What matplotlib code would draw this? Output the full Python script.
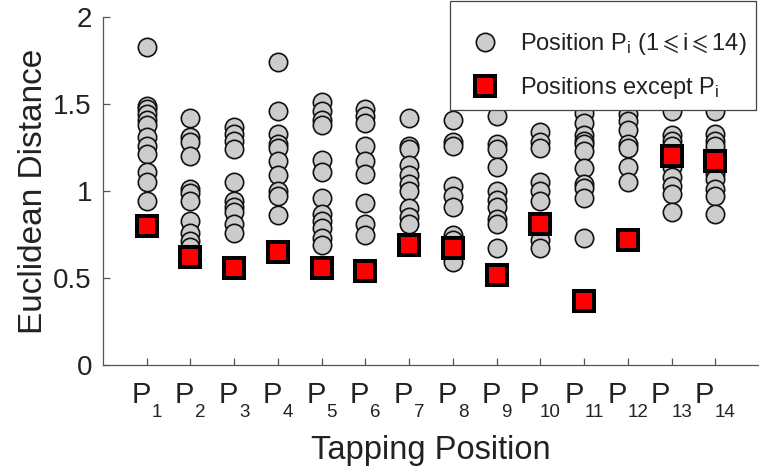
import matplotlib
matplotlib.use("Agg")
import matplotlib.pyplot as plt
from matplotlib import font_manager
from matplotlib.patches import Rectangle
from matplotlib.transforms import IdentityTransform

# ---- data -------------------------------------------------------------
positions = list(range(1, 15))
tick_numbers = [str(i) for i in positions]

p1 = [1.83, 1.49, 1.47, 1.44, 1.41, 1.38, 1.31, 1.26, 1.21, 1.11, 1.05, 0.94]
p2 = [1.42, 1.31, 1.28, 1.20, 1.01, 0.99, 0.94, 0.83, 0.76, 0.71, 0.68]
p3 = [1.37, 1.33, 1.29, 1.24, 1.05, 0.94, 0.91, 0.88, 0.81, 0.76]
p4 = [1.74, 1.46, 1.33, 1.27, 1.25, 1.17, 1.09, 1.00, 0.97, 0.86]
p5 = [1.51, 1.46, 1.41, 1.38, 1.18, 1.11, 0.96, 0.87, 0.83, 0.79, 0.73, 0.69]
p6 = [1.47, 1.43, 1.39, 1.26, 1.17, 1.10, 0.93, 0.81, 0.75]
p7 = [1.42, 1.26, 1.24, 1.15, 1.09, 1.04, 1.00, 0.90, 0.85, 0.81]
p8 = [1.41, 1.28, 1.26, 1.03, 0.97, 0.91, 0.75, 0.72, 0.59]
p9 = [1.43, 1.27, 1.24, 1.14, 1.00, 0.95, 0.91, 0.84, 0.81, 0.67]
p10 = [1.34, 1.28, 1.25, 1.05, 1.00, 0.94, 0.72, 0.67]
p11 = [1.45, 1.39, 1.32, 1.29, 1.27, 1.23, 1.13, 1.04, 1.02, 0.96, 0.73]
p12 = [1.44, 1.40, 1.35, 1.27, 1.25, 1.14, 1.05]
p13 = [1.46, 1.32, 1.29, 1.26, 1.19, 1.14, 1.08, 1.03, 0.98, 0.88]
p14 = [1.46, 1.33, 1.29, 1.26, 1.10, 1.07, 1.01, 0.97, 0.87]
same_position = [p1, p2, p3, p4, p5, p6, p7, p8, p9, p10, p11, p12, p13, p14]

other_positions = [0.80, 0.62, 0.56, 0.65, 0.56, 0.54, 0.69, 0.67, 0.52,
                   0.81, 0.365, 0.72, 1.20, 1.17]

y_ticks = [0, 0.5, 1, 1.5, 2]
y_tick_labels = ["0", "0.5", "1", "1.5", "2"]

# ---- fonts ------------------------------------------------------------
installed = {f.name for f in font_manager.fontManager.ttflist}
main_font = "Liberation Sans" if "Liberation Sans" in installed else "DejaVu Sans"
narrow_font = "Liberation Sans Narrow" if "Liberation Sans Narrow" in installed else main_font

plt.rcParams["font.family"] = [main_font, "DejaVu Sans"]
plt.rcParams["mathtext.fontset"] = "custom"
plt.rcParams["mathtext.rm"] = main_font
plt.rcParams["mathtext.it"] = main_font
plt.rcParams["mathtext.fallback"] = "stixsans"

# ---- figure -----------------------------------------------------------
W, H = 759, 468
fig = plt.figure(figsize=(W / 100, H / 100), dpi=100)
ax = fig.add_axes([103 / W, 103 / H, 656 / W, 348 / H])

circle_kw = dict(linestyle="none", marker="o", markersize=13.2,
                 markerfacecolor="#cccccc", markeredgecolor="#111111",
                 markeredgewidth=1.2)
square_kw = dict(linestyle="none", marker="s", markersize=14.4,
                 markerfacecolor="#ff0000", markeredgecolor="black",
                 markeredgewidth=2.9)

for i, (x, vals) in enumerate(zip(positions, same_position)):
    ax.plot([x] * len(vals), vals, zorder=2,
            label=r"Position P$_\mathregular{i}$ (1$\leqslant$i$\leqslant$14)" if i == 0 else None,
            **circle_kw)
ax.plot(positions, other_positions, zorder=3,
        label=r"Positions except P$_\mathregular{i}$", **square_kw)

ax.set_xlim(0, 15)
ax.set_ylim(0, 2)

for side in ("top", "right"):
    ax.spines[side].set_visible(False)
for side in ("left", "bottom"):
    ax.spines[side].set_color("#555555")
    ax.spines[side].set_linewidth(0.9)

ax.tick_params(direction="in", length=5, width=0.9, color="#555555")
ax.set_yticks(y_ticks)
ax.set_yticklabels(y_tick_labels, fontfamily=narrow_font, fontsize=20,
                   color="#222222")
ax.tick_params(axis="y", pad=8)
ax.set_xticks(positions)
ax.set_xticklabels([])

# x tick labels: "P" with a deep subscript number
letters, subs = [], []
for x, num in zip(positions, tick_numbers):
    tP = ax.annotate("P", xy=(x, 0), xycoords=("data", "axes fraction"),
                     xytext=(0, -38), textcoords="offset pixels",
                     ha="left", va="baseline", fontsize=21,
                     fontfamily=narrow_font, color="#222222")
    ts = ax.annotate(num, xy=(x, 0), xycoords=("data", "axes fraction"),
                     xytext=(0, -52), textcoords="offset pixels",
                     ha="left", va="baseline", fontsize=13.5,
                     fontfamily=narrow_font, color="#222222")
    letters.append(tP)
    subs.append(ts)

ax.set_xlabel("Tapping Position", fontsize=23.5, color="#222222")
ax.xaxis.set_label_coords(0.5, -0.20)
ax.set_ylabel("Euclidean Distance", fontsize=24, color="#222222")
ax.yaxis.set_label_coords(-0.082, 0.5)

leg = ax.legend(loc="upper right", bbox_to_anchor=(0.995, 0.986),
                borderaxespad=0, numpoints=1, fontsize=17,
                handlelength=2.0, handletextpad=0.45, borderpad=0.4,
                labelspacing=0.75, frameon=False)
leg.set_zorder(10)
for t in leg.get_texts():
    t.set_color("#222222")

fig.canvas.draw()
renderer = fig.canvas.get_renderer()

gap = 1.0
for tP, ts in zip(letters, subs):
    wP = tP.get_window_extent(renderer).width
    ws = ts.get_window_extent(renderer).width
    total = wP + gap + ws
    tP.xyann = (-total / 2, -38)
    ts.xyann = (-total / 2 + wP + gap, -52)

# legend box: runs from the legend's lower edge up to the top of the figure
bb = leg.get_window_extent(renderer)
box = Rectangle((bb.x0 - 2, bb.y0), bb.width + 2, H - 1 - bb.y0,
                transform=IdentityTransform(), facecolor="white",
                edgecolor="#444444", linewidth=0.9, zorder=9, clip_on=False)
ax.add_patch(box)

fig.savefig("out.png", dpi=100)
